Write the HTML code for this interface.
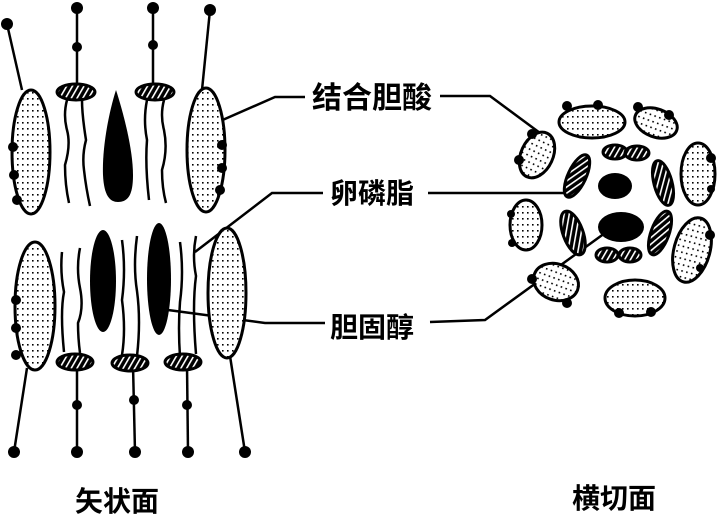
<!DOCTYPE html>
<html><head><meta charset="utf-8"><style>
html,body{margin:0;padding:0;background:#fff;width:718px;height:518px;overflow:hidden}
text{font-family:"Liberation Sans","Noto Sans CJK SC",sans-serif;font-weight:bold;fill:#000}
</style></head><body>
<svg width="718" height="518" viewBox="0 0 718 518" xmlns="http://www.w3.org/2000/svg">
<defs>
<pattern id="dot" width="5" height="6" patternUnits="userSpaceOnUse">
<rect width="5" height="6" fill="#fff"/><rect x="2" y="2" width="1.6" height="1.6" fill="#000"/>
</pattern>
<pattern id="hat" width="5" height="5" patternUnits="userSpaceOnUse" patternTransform="rotate(30)">
<rect width="5" height="5" fill="#000"/><rect x="0" y="0" width="1.6" height="5" fill="#fff"/>
</pattern>
</defs>
<g stroke="#000" stroke-width="2.5" fill="none">
<line x1="7" y1="24" x2="22" y2="90"/>
<line x1="77" y1="7" x2="77" y2="86"/>
<line x1="153" y1="7" x2="153" y2="84"/>
<line x1="210" y1="10" x2="202" y2="90"/>
<path d="M67 100 q-4 15 0 30 q4 15 -2 35 q0 20 4 38"/>
<path d="M82 100 q0 15 4 40 q-4 15 -2 30 q2 18 6 36"/>
<path d="M147 100 q-4 20 0 40 q-2 25 2 60"/>
<path d="M164 100 q-4 15 0 30 q4 20 -2 40 q0 18 4 33"/>
<path d="M62 252 q-2 20 2 40 q-4 20 0 60"/>
<path d="M80 248 q-4 20 0 40 q4 20 -2 35 q0 15 2 30"/>
<path d="M122 240 q4 30 0 60 q4 30 0 55"/>
<path d="M137 236 q-4 30 0 55 q4 30 0 65"/>
<path d="M180 242 q4 30 0 60 q-2 25 0 55"/>
<path d="M196 236 q-4 20 0 40 q-4 30 0 78"/>
<line x1="27" y1="368" x2="14" y2="452"/>
<line x1="77" y1="365" x2="77" y2="452"/>
<line x1="133" y1="365" x2="135" y2="452"/>
<line x1="187" y1="365" x2="188" y2="452"/>
<line x1="230" y1="356" x2="245" y2="452"/>
<polyline points="218,122 275,97 305,97"/>
<polyline points="440,96 490,96 540,133"/>
<polyline points="195,252 272,193 323,193"/>
<polyline points="428,193 568,193 585,168"/>
<polyline points="168,310 265,323 325,323"/>
<polyline points="430,322 485,320 605,233"/>
</g>
<g fill="#000">
<circle cx="7" cy="24" r="6"/><circle cx="77" cy="8" r="6"/><circle cx="77" cy="47" r="5"/>
<circle cx="153" cy="8" r="6"/><circle cx="153" cy="45" r="5"/><circle cx="210" cy="10" r="6"/>
<circle cx="14" cy="452" r="6"/><circle cx="77" cy="452" r="6"/><circle cx="77" cy="405" r="5"/>
<circle cx="135" cy="452" r="6"/><circle cx="134" cy="400" r="5"/>
<circle cx="188" cy="452" r="6"/><circle cx="187" cy="405" r="5"/><circle cx="245" cy="452" r="6"/>
</g>
<g stroke="#000" stroke-width="3">
<ellipse cx="31" cy="152" rx="19" ry="62" fill="url(#dot)"/>
<ellipse cx="206" cy="150" rx="19" ry="62" fill="url(#dot)"/>
<ellipse cx="35" cy="306" rx="20" ry="64" fill="url(#dot)"/>
<ellipse cx="227" cy="293" rx="19" ry="65" fill="url(#dot)"/>
<ellipse cx="76" cy="92" rx="19" ry="8" fill="url(#hat)"/>
<ellipse cx="155" cy="92" rx="19" ry="8" fill="url(#hat)"/>
<ellipse cx="75" cy="362" rx="18" ry="8" fill="url(#hat)"/>
<ellipse cx="130" cy="363" rx="18" ry="8" fill="url(#hat)"/>
<ellipse cx="183" cy="362" rx="18" ry="8" fill="url(#hat)"/>
</g>
<g fill="#000">
<circle cx="13" cy="147" r="5"/><circle cx="14" cy="175" r="5"/><circle cx="17" cy="200" r="5"/>
<circle cx="222" cy="145" r="5"/><circle cx="222" cy="168" r="5"/><circle cx="220" cy="190" r="5"/>
<circle cx="16" cy="300" r="5"/><circle cx="16" cy="328" r="5"/><circle cx="16" cy="355" r="5"/>
<path d="M116 90 C108 115 102 150 103 175 C104 196 110 202 118 202 C128 202 133 195 133 175 C133 150 124 115 116 90Z"/>
<ellipse cx="103" cy="281" rx="13" ry="51"/>
<ellipse cx="159" cy="279" rx="12" ry="56"/>
</g>
<g stroke="#000" stroke-width="3">
<ellipse cx="592" cy="122" rx="33" ry="16" fill="url(#dot)"/>
<ellipse cx="656" cy="123" rx="22" ry="14" transform="rotate(20 656 123)" fill="url(#dot)"/>
<ellipse cx="537" cy="155" rx="16" ry="24" transform="rotate(25 537 155)" fill="url(#dot)"/>
<ellipse cx="698" cy="174" rx="17" ry="31" fill="url(#dot)"/>
<ellipse cx="526" cy="225" rx="16" ry="25" fill="url(#dot)"/>
<ellipse cx="692" cy="250" rx="18" ry="33" transform="rotate(15 692 250)" fill="url(#dot)"/>
<ellipse cx="556" cy="282" rx="23" ry="18" transform="rotate(20 556 282)" fill="url(#dot)"/>
<ellipse cx="635" cy="298" rx="30" ry="18" fill="url(#dot)"/>
<ellipse cx="615" cy="152" rx="12" ry="7" fill="url(#hat)"/>
<ellipse cx="637" cy="153" rx="12" ry="7" fill="url(#hat)"/>
<ellipse cx="577" cy="176" rx="9" ry="23" transform="rotate(25 577 176)" fill="url(#hat)"/>
<ellipse cx="663" cy="183" rx="9" ry="23" transform="rotate(-15 663 183)" fill="url(#hat)"/>
<ellipse cx="573" cy="233" rx="10" ry="23" transform="rotate(-20 573 233)" fill="url(#hat)"/>
<ellipse cx="660" cy="233" rx="9" ry="23" transform="rotate(20 660 233)" fill="url(#hat)"/>
<ellipse cx="607" cy="255" rx="11" ry="7" fill="url(#hat)"/>
<ellipse cx="630" cy="255" rx="11" ry="7" fill="url(#hat)"/>
</g>
<g fill="#000">
<ellipse cx="615" cy="186" rx="17" ry="13"/>
<ellipse cx="621" cy="227" rx="23" ry="15"/>
<circle cx="567" cy="106" r="5"/><circle cx="598" cy="105" r="5"/>
<circle cx="638" cy="107" r="5"/><circle cx="669" cy="115" r="5"/>
<circle cx="532" cy="134" r="5"/><circle cx="519" cy="160" r="5"/>
<circle cx="711" cy="158" r="5"/><circle cx="711" cy="189" r="4"/>
<circle cx="511" cy="214" r="4"/><circle cx="512" cy="243" r="4"/>
<circle cx="710" cy="235" r="5"/><circle cx="700" cy="268" r="4"/>
<circle cx="532" cy="279" r="5"/><circle cx="567" cy="303" r="5"/>
<circle cx="619" cy="313" r="5"/><circle cx="651" cy="312" r="5"/>
</g>
<text x="312" y="108" font-size="30">结合胆酸</text>
<text x="330" y="203" font-size="28">卵磷脂</text>
<text x="330" y="337" font-size="28">胆固醇</text>
<text x="75" y="511" font-size="28">矢状面</text>
<text x="572" y="508" font-size="28">横切面</text>
</svg>
</body></html>
